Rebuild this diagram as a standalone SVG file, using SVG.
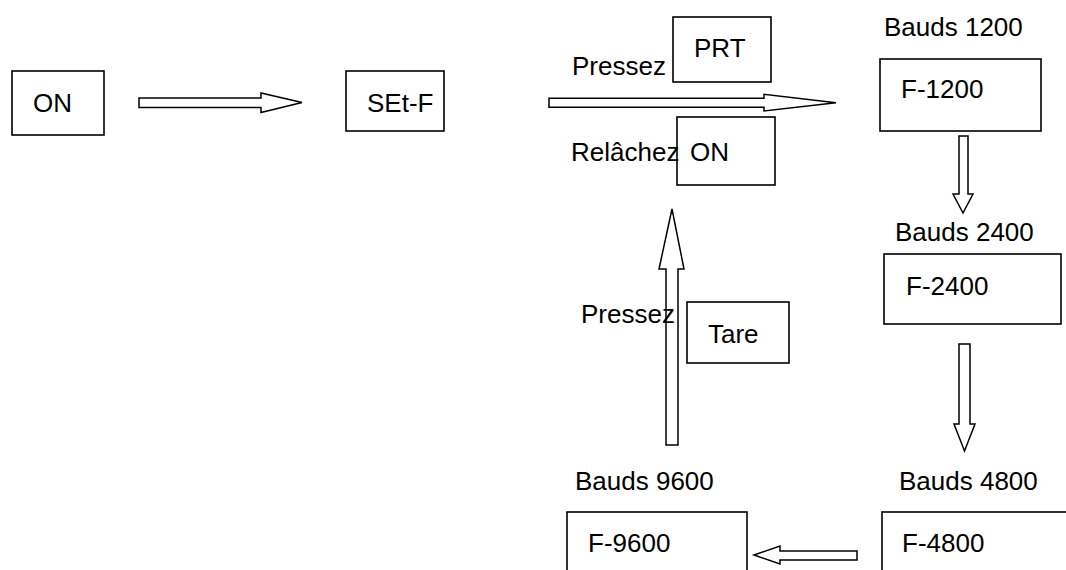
<svg xmlns="http://www.w3.org/2000/svg" width="1066" height="570" viewBox="0 0 1066 570">
<style>
.box{fill:#fff;stroke:#000;stroke-width:1.6}
.arr{fill:#fff;stroke:#000;stroke-width:1.5;stroke-linejoin:miter}
text{font-family:"Liberation Sans",Arial,sans-serif;font-size:26px;fill:#000}
</style>
<rect width="1066" height="570" fill="#fff"/>
<g id="connectors">
<polygon class="arr" points="139,98 261,98 261,93 302,102.5 261,112.5 261,107.5 139,107.5"/>
<polygon class="arr" points="549,98.3 764,98.3 764,94.3 836,102.7 764,111 764,107.3 549,107.3"/>
<polygon class="arr" points="959,136 968,136 968,194 973,194 963,213 953,194 959,194"/>
<polygon class="arr" points="959,344 970,344 970,424 975,424 964.5,451 954,424 959,424"/>
<polygon class="arr" points="666,445 678,445 678,269 684,269 672,209 659,269 666,269"/>
<polygon class="arr" points="857,551 780,551 780,546 754,555 780,564 780,560 857,560"/>
</g>
<g id="node-on"><rect class="box" x="12" y="71" width="92" height="64"/><text x="33" y="112">ON</text></g>
<g id="node-setf"><rect class="box" x="346" y="71" width="98" height="60"/><text x="367" y="112">SEt-F</text></g>
<g id="node-prt"><rect class="box" x="673" y="17" width="98" height="65"/><text x="694" y="57">PRT</text></g>
<g id="node-on2"><rect class="box" x="677" y="117" width="98" height="68"/><text x="690" y="161">ON</text></g>
<g id="node-tare"><rect class="box" x="687" y="302" width="102" height="61"/><text x="708" y="343">Tare</text></g>
<g id="node-f1200"><rect class="box" x="880" y="59" width="161" height="72"/><text x="901" y="98">F-1200</text></g>
<g id="node-f2400"><rect class="box" x="884" y="254" width="177" height="70"/><text x="906" y="295">F-2400</text></g>
<g id="node-f9600"><rect class="box" x="567" y="512" width="180" height="70"/><text x="588" y="552">F-9600</text></g>
<g id="node-f4800"><rect class="box" x="882" y="512" width="200" height="70"/><text x="902" y="552">F-4800</text></g>
<g id="labels">
<text x="572" y="75">Pressez</text>
<text x="571" y="161">Relâchez</text>
<text x="581" y="323">Pressez</text>
<text x="884" y="36">Bauds 1200</text>
<text x="895" y="241">Bauds 2400</text>
<text x="575" y="490">Bauds 9600</text>
<text x="899" y="490">Bauds 4800</text>
</g>
</svg>
